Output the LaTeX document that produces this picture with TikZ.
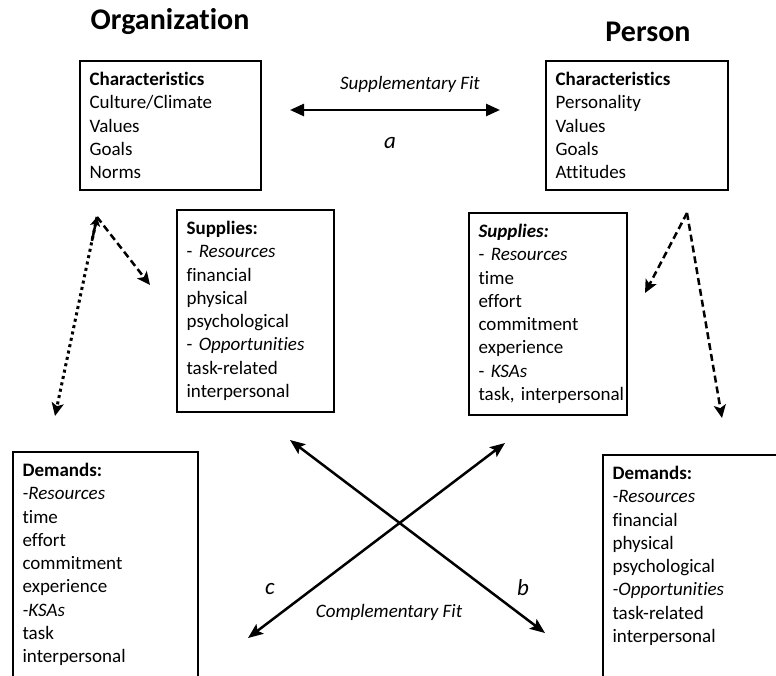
\documentclass[tikz,border=0pt]{standalone}
\usepackage{fontspec}
\setmainfont{Carlito}[Ligatures=NoCommon]
\usetikzlibrary{arrows.meta,calc}

\tikzset{
  fitbox/.style={draw, line width=2.2pt, anchor=north west, align=left,
    inner xsep=9.5pt, inner ysep=11pt, font=\fontsize{19}{23.3}\selectfont},
  title/.style={font=\fontsize{30}{34}\selectfont\bfseries},
  fitlabel/.style={font=\fontsize{19}{22}\selectfont\itshape},
  letter/.style={font=\fontsize{23}{26}\selectfont\itshape},
  fitarrow/.style={line width=2.5pt, {Stealth[length=15pt,width=12pt,inset=3pt]}-{Stealth[length=15pt,width=12pt,inset=3pt]}},
  suparrow/.style={line width=2.5pt, {Triangle[length=14pt,width=12pt]}-{Triangle[length=14pt,width=12pt]}},
  linkarrow/.style={line width=2.5pt, -{Stealth[length=13pt,width=12pt,inset=3pt]}},
}

\begin{document}
\begin{tikzpicture}[x=1pt,y=-1pt]
  \useasboundingbox (0,0) rectangle (776,675);
  \clip (0,0) rectangle (776,675);

  % titles
  \node[title] (orgtitle) at (170,22) {Organization};
  \node[title] (pertitle) at (648,32) {Person};

  % characteristics
  \node[fitbox, text width=162pt] (orgchar) at (79,60)
    {\textbf{Characteristics}\\Culture/Climate\\Values\\Goals\\Norms};
  \node[fitbox, text width=163pt] (perchar) at (545,60)
    {\textbf{Characteristics}\\Personality\\Values\\Goals\\Attitudes};

  % supplies
  \node[fitbox, text width=138pt] (orgsup) at (176,209)
    {\textbf{Supplies:}\\- \textit{Resources}\\financial\\physical\\psychological\\
     - \textit{Opportunities}\\task-related\\interpersonal};
  \node[fitbox, text width=139pt] (persup) at (468,212)
    {\textbf{\textit{Supplies:}}\\- \textit{Resources}\\time\\effort\\commitment\\
     experience\\- \textit{KSAs}\\\mbox{task, interpersonal}};

  % demands
  \node[fitbox, text width=166pt] (orgdem) at (12,451)
    {\textbf{Demands:}\\\textit{-Resources}\\time\\effort\\commitment\\experience\\
     \textit{-KSAs}\\task\\interpersonal};
  \node[fitbox, text width=200pt] (perdem) at (602,454)
    {\textbf{Demands:}\\\textit{-Resources}\\financial\\physical\\psychological\\
     \textit{-Opportunities}\\task-related\\interpersonal\\[40pt]\mbox{}};

  % supplementary fit
  \coordinate (supL) at (290,110);
  \coordinate (supR) at (500,110);
  \draw[suparrow] (supL) -- (supR);
  \node[fitlabel] (suplabel) at (410,84) {Supplementary Fit};
  \node[letter] (a) at (390,143) {a};

  % organization links
  \coordinate (orgapex) at (97,217);
  \coordinate (orgS) at (150,285);
  \coordinate (orgD) at (55,416);
  \draw[linkarrow, dash pattern=on 7pt off 4pt] (orgapex) -- (orgS);
  \draw[linkarrow, line width=3pt, dash pattern=on 3pt off 3.5pt] (orgapex) -- (orgD);
  \draw[line width=2.5pt, -{Stealth[length=9pt,width=10pt,inset=2pt]}] ($(orgapex)!0.12!(orgD)$) -- (orgapex);

  % person links
  \coordinate (perapex) at (687,213);
  \coordinate (perS) at (645,293);
  \coordinate (perD) at (722,418);
  \draw[linkarrow, dash pattern=on 7pt off 4pt] (perapex) -- (perS);
  \draw[linkarrow, dash pattern=on 7pt off 4pt] (perapex) -- (perD);

  % complementary fit
  \coordinate (bA) at (290,440);
  \coordinate (bB) at (545,633);
  \coordinate (cA) at (248,638);
  \coordinate (cB) at (505,443);
  \draw[fitarrow] (bA) -- (bB);
  \draw[fitarrow] (cA) -- (cB);
  \node[fitlabel] (complabel) at (389,612) {Complementary Fit};
  \node[letter] (b) at (523,588) {b};
  \node[letter] (c) at (270,589) {c};

\end{tikzpicture}
\end{document}
